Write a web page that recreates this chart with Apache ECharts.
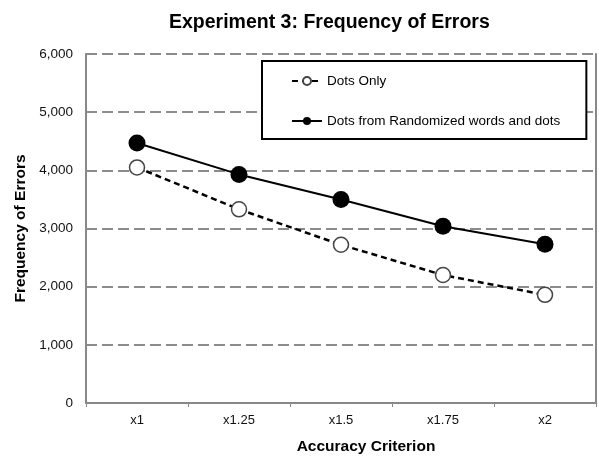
<!DOCTYPE html>
<html>
<head>
<meta charset="utf-8">
<script src="https://cdn.jsdelivr.net/npm/echarts@6/dist/echarts.min.js"></script>
<style>
html,body{margin:0;padding:0;background:#fff;}
#chart{width:599px;height:460px;}
</style>
</head>
<body>
<div id="chart"></div>
<script>
const categories = ['x1', 'x1.25', 'x1.5', 'x1.75', 'x2'];
const dotsOnly = [4050, 3330, 2720, 2200, 1860];
const dotsRandomized = [4470, 3930, 3500, 3040, 2730];
const seriesNames = ['Dots Only', 'Dots from Randomized words and dots'];

const FONT = 'Liberation Sans, Arial, sans-serif';
const chart = echarts.init(document.getElementById('chart'));
chart.setOption({
  backgroundColor: '#fff',
  animation: false,
  title: {
    text: 'Experiment 3: Frequency of Errors',
    left: 164, top: 8,
    textStyle: { fontFamily: FONT, fontSize: 19.5, fontWeight: 'bold', color: '#000' }
  },
  legend: {
    orient: 'vertical',
    left: 262, top: 61,
    padding: [13, 26, 11, 29],
    itemGap: 26,
    itemWidth: 30, itemHeight: 10,
    borderColor: '#000', borderWidth: 2,
    backgroundColor: '#fff',
    textStyle: { fontFamily: FONT, fontSize: 13.5, color: '#000' },
    data: seriesNames
  },
  grid: { left: 86, right: 3, top: 54, bottom: 57 },
  xAxis: {
    type: 'category',
    data: categories,
    boundaryGap: true,
    axisLine: { lineStyle: { color: '#888', width: 2 } },
    axisTick: { show: true, length: 4, lineStyle: { color: '#888', width: 1 } },
    axisLabel: { fontFamily: FONT, fontSize: 13, color: '#111', margin: 11 },
    name: 'Accuracy Criterion',
    nameLocation: 'middle',
    nameGap: 36,
    nameTextStyle: { fontFamily: FONT, fontSize: 15.5, fontWeight: 'bold', color: '#000', padding: [0, 0, 0, 50] }
  },
  yAxis: [{
    type: 'value',
    min: 0, max: 6000, interval: 1000,
    axisLine: { show: true, lineStyle: { color: '#888', width: 2 } },
    axisTick: { show: false },
    axisLabel: {
      fontFamily: FONT, fontSize: 13.5, color: '#111', margin: 13,
      formatter: v => v.toLocaleString('en-US')
    },
    splitLine: { show: true, lineStyle: { color: '#666', width: 1.5, type: [11, 5] } },
    name: 'Frequency of Errors',
    nameLocation: 'middle',
    nameGap: 52,
    nameTextStyle: { fontFamily: FONT, fontSize: 15.5, fontWeight: 'bold', color: '#000' }
  }, {
    type: 'value',
    position: 'right',
    min: 0, max: 6000, interval: 1000,
    axisLine: { show: true, lineStyle: { color: '#888', width: 2 } },
    axisTick: { show: false },
    axisLabel: { show: false },
    splitLine: { show: false }
  }],
  series: [{
    name: seriesNames[0],
    type: 'line',
    data: dotsOnly,
    symbol: 'circle',
    symbolSize: 15,
    lineStyle: { color: '#000', width: 2.5, type: [6, 4] },
    itemStyle: { color: '#fff', borderColor: '#444', borderWidth: 1.5 },
    z: 3
  }, {
    name: seriesNames[1],
    type: 'line',
    data: dotsRandomized,
    symbol: 'circle',
    symbolSize: 17,
    lineStyle: { color: '#000', width: 2 },
    itemStyle: { color: '#000', borderColor: '#000', borderWidth: 0 },
    z: 4
  }]
});
</script>
</body>
</html>
